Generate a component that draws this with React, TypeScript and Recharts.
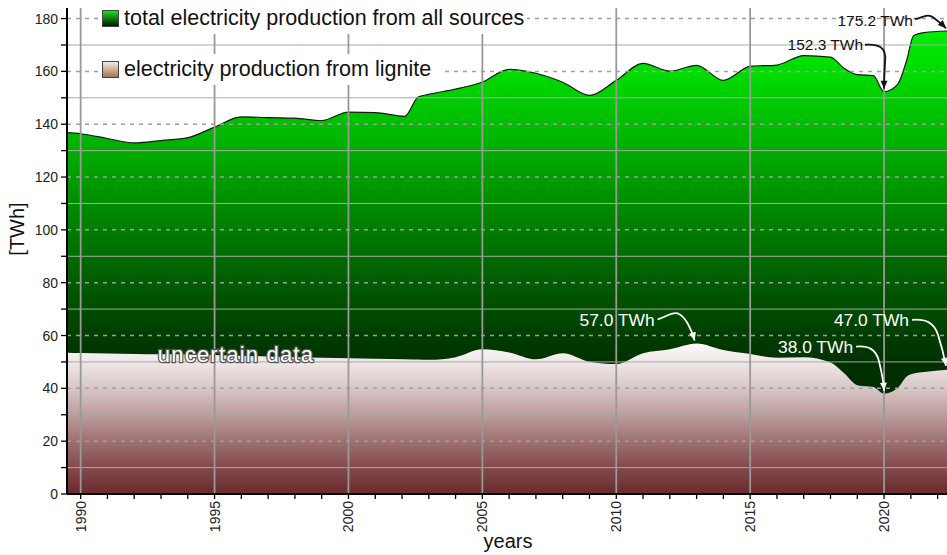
import React from 'react';
import { AreaChart, Area, XAxis, YAxis, ReferenceLine, ReferenceDot } from 'recharts';

// years (x positions of the read-off points)
const years = [
  1989.5, 1990, 1991, 1992, 1993, 1994, 1995, 1996, 1997, 1998, 1999, 2000, 2001, 2002.1, 2002.6,
  2003, 2004, 2005, 2006, 2007, 2008, 2009, 2010, 2011, 2012, 2013, 2014, 2015, 2016, 2017, 2018,
  2018.5, 2019, 2019.6, 2020, 2020.5, 2020.85, 2021.1, 2021.5, 2022.35,
];

// total electricity production from all sources [TWh]
const totalTWh = [
  136.8, 136.4, 134.6, 132.9, 133.8, 134.9, 138.9, 142.8, 142.5, 142.3, 141.4, 144.6, 144.4, 143.0, 150.3,
  151.3, 153.3, 156.0, 160.8, 159.3, 155.9, 150.9, 156.6, 163.0, 160.1, 162.3, 156.6, 161.9, 162.4, 166.0, 165.4,
  161.2, 158.8, 158.4, 152.3, 155.0, 164.4, 173.5, 174.7, 175.3,
];

// electricity production from lignite [TWh]
const ligniteTWh = [
  53.5, 53.4, 53.2, 53.0, 52.9, 52.8, 52.6, 52.3, 52.1, 51.8, 51.6, 51.4, 51.2, 51.0, 50.9,
  50.8, 51.8, 54.8, 53.6, 51.0, 53.3, 50.1, 49.2, 53.3, 54.8, 57.0, 54.5, 53.0, 51.6, 51.8, 49.8,
  45.8, 41.2, 40.5, 38.0, 40.1, 44.5, 45.6, 46.2, 47.0,
];

const yTicks = [0, 10, 20, 30, 40, 50, 60, 70, 80, 90, 100, 110, 120, 130, 140, 150, 160, 170, 180];
const dashedGrid = [20, 40, 60, 80, 100, 120, 140, 160, 180];
const solidGrid = [10, 30, 50, 70, 90, 110, 130, 150, 170];
const xTicks = [
  1990, 1991, 1992, 1993, 1994, 1995, 1996, 1997, 1998, 1999, 2000, 2001, 2002, 2003, 2004, 2005, 2006,
  2007, 2008, 2009, 2010, 2011, 2012, 2013, 2014, 2015, 2016, 2017, 2018, 2019, 2020, 2021, 2022,
];
const verticalGrid = [1990, 1995, 2000, 2005, 2010, 2015, 2020];

// annotated values
const annYears = [2022.35, 2020, 2013, 2022.35, 2020];
const annValues = [175.2, 152.3, 57.0, 47.0, 38.0];
const annLabels = ['175.2 TWh', '152.3 TWh', '57.0 TWh', '47.0 TWh', '38.0 TWh'];

const uncertainAt = { year: 1995.8, value: 52.7 };

const data = years.map((year, i) => ({ year, total: totalTWh[i], lignite: ligniteTWh[i] }));

// label / arrow placement relative to the annotated point (pixels)
const annLayout = [
  { color: '#111', size: 15.5, tx: -34, ty: -11, d: 'M -32 -12 C -24 -14, -19 -18, -14 -14 Q -6 -8, -1 -3', from: [-6, -8], tip: [-1, -3] },
  { color: '#111', size: 15.5, tx: -21, ty: -47, d: 'M -19 -47 C -6 -48, 3 -45, 1 -30 Q 0 -15, 0 -3', from: [0, -15], tip: [0, -3] },
  { color: '#fff', size: 17.4, tx: -42, ty: -23, d: 'M -39 -24 C -31 -26, -25 -32, -19 -30 C -11 -27, -5 -14, -2 -3', from: [-5, -14], tip: [-2, -3] },
  { color: '#fff', size: 17.4, tx: -38, ty: -50, d: 'M -35 -50 C -22 -51, -13 -48, -9 -35 Q -4 -19, -1 -4', from: [-4, -19], tip: [-1, -4] },
  { color: '#fff', size: 17.4, tx: -31, ty: -47, d: 'M -28 -47 C -16 -48, -8 -45, -5 -32 Q -1 -16, 0 -3', from: [-1, -16], tip: [0, -3] },
];

const FONT = '"Liberation Sans", Arial, sans-serif';

function arrowHead(from: number[], tip: number[]) {
  const dx = tip[0] - from[0];
  const dy = tip[1] - from[1];
  const len = Math.sqrt(dx * dx + dy * dy) || 1;
  const ux = dx / len;
  const uy = dy / len;
  const bx = tip[0] - ux * 8;
  const by = tip[1] - uy * 8;
  return `${tip[0]},${tip[1]} ${bx - uy * 3.5},${by + ux * 3.5} ${bx + uy * 3.5},${by - ux * 3.5}`;
}

const YTick = (props: any) => {
  const { x, y, payload } = props;
  if (payload.value % 20 !== 0) return <g />;
  return (
    <text x={x} y={y} textAnchor="end" dominantBaseline="central" fontSize={14} fill="#222" fontFamily={FONT}>
      {payload.value}
    </text>
  );
};

const XTick = (props: any) => {
  const { x, y, payload } = props;
  if (payload.value % 5 !== 0) return <g />;
  return (
    <text
      transform={`translate(${x},${y}) rotate(-90)`}
      textAnchor="end"
      dominantBaseline="central"
      fontSize={14}
      fill="#222"
      fontFamily={FONT}
    >
      {payload.value}
    </text>
  );
};

const legendRow = (top: number, right: number, icon: string, text: string) => (
  <div
    style={{
      position: 'absolute',
      left: 98,
      top,
      width: right - 98,
      height: 31,
      background: '#fff',
      display: 'flex',
      alignItems: 'center',
      boxSizing: 'border-box',
      paddingLeft: 4,
    }}
  >
    <div style={{ width: 15, height: 15, border: '1px solid #444', background: icon, marginRight: 5 }} />
    <span style={{ fontSize: 21.5, lineHeight: 1, color: '#111', whiteSpace: 'nowrap' }}>{text}</span>
  </div>
);

export default function App() {
  return (
    <div style={{ position: 'absolute', left: 0, top: 0, width: 947, height: 555, background: '#fff', fontFamily: FONT, overflow: 'hidden' }}>
      <AreaChart width={947} height={555} data={data} margin={{ top: 8, right: 0, bottom: 0, left: 0 }}>
        <defs>
          <linearGradient id="gTotal" x1="0" y1="0" x2="0" y2="1">
            <stop offset="0" stopColor="#00ee00" />
            <stop offset="0.09" stopColor="#00dc00" />
            <stop offset="0.32" stopColor="#009c00" />
            <stop offset="0.43" stopColor="#007c00" />
            <stop offset="0.55" stopColor="#005a00" />
            <stop offset="0.66" stopColor="#003d00" />
            <stop offset="0.72" stopColor="#003000" />
            <stop offset="1" stopColor="#002000" />
          </linearGradient>
          <linearGradient id="gLignite" x1="0" y1="0" x2="0" y2="1">
            <stop offset="0" stopColor="#fbf9f9" />
            <stop offset="0.12" stopColor="#f0e8e8" />
            <stop offset="0.3" stopColor="#d8c6c6" />
            <stop offset="0.47" stopColor="#bc9e9e" />
            <stop offset="0.65" stopColor="#9e7070" />
            <stop offset="0.82" stopColor="#844a4c" />
            <stop offset="1" stopColor="#6a2a2e" />
          </linearGradient>
        </defs>
        <XAxis
          dataKey="year"
          type="number"
          domain={[1989.49, 2022.35]}
          allowDataOverflow
          ticks={xTicks}
          interval={0}
          height={61}
          tick={<XTick />}
          tickSize={5}
          tickMargin={2}
          axisLine={{ stroke: '#000', strokeWidth: 2 }}
          tickLine={{ stroke: '#000', strokeWidth: 1.3 }}
          label={({ viewBox }: any) => (
            <text x={viewBox.x + 441} y={viewBox.y + 54} textAnchor="middle" fontSize={20} fill="#111" fontFamily={FONT}>
              years
            </text>
          )}
        />
        <YAxis
          type="number"
          domain={[0, 184]}
          allowDataOverflow
          ticks={yTicks}
          interval={0}
          width={67}
          tick={<YTick />}
          tickSize={6}
          tickMargin={3}
          axisLine={{ stroke: '#000', strokeWidth: 2 }}
          tickLine={{ stroke: '#000', strokeWidth: 1.3 }}
          label={({ viewBox }: any) => (
            <text
              transform={`translate(${viewBox.x + 17},${viewBox.y + 221}) rotate(-90)`}
              textAnchor="middle"
              dominantBaseline="central"
              fontSize={20}
              fill="#111"
              fontFamily={FONT}
            >
              [TWh]
            </text>
          )}
        />
        <Area
          type="monotone"
          dataKey="total"
          stroke="#1a1a1a"
          strokeWidth={1.2}
          fill="url(#gTotal)"
          fillOpacity={1}
          isAnimationActive={false}
          dot={false}
          activeDot={false}
        />
        <Area
          type="monotone"
          dataKey="lignite"
          stroke="none"
          fill="url(#gLignite)"
          fillOpacity={1}
          isAnimationActive={false}
          dot={false}
          activeDot={false}
        />
        {solidGrid.map((v) => (
          <ReferenceLine key={`s${v}`} y={v} stroke="#a8a8a8" strokeWidth={1} />
        ))}
        {dashedGrid.map((v) => (
          <ReferenceLine key={`d${v}`} y={v} stroke="#a0a0a0" strokeWidth={1.5} strokeDasharray="4 5" />
        ))}
        {verticalGrid.map((v) => (
          <ReferenceLine key={`v${v}`} x={v} stroke="#999" strokeWidth={1.8} />
        ))}
        <ReferenceDot
          x={uncertainAt.year}
          y={uncertainAt.value}
          ifOverflow="visible"
          shape={(p: any) => (
            <text
              x={p.cx}
              y={p.cy}
              textAnchor="middle"
              dominantBaseline="central"
              fontSize={22}
              letterSpacing={1.2}
              fill="#fff"
              stroke="#555"
              strokeWidth={2.5}
              paintOrder="stroke"
              fontFamily={FONT}
            >
              uncertain data
            </text>
          )}
        />
        {annYears.map((yr, i) => {
          const a = annLayout[i];
          return (
            <ReferenceDot
              key={`a${i}`}
              x={yr}
              y={annValues[i]}
              ifOverflow="visible"
              shape={(p: any) => (
                <g transform={`translate(${p.cx},${p.cy})`}>
                  <text x={a.tx} y={a.ty} textAnchor="end" dominantBaseline="central" fontSize={a.size} fill={a.color} fontFamily={FONT}>
                    {annLabels[i]}
                  </text>
                  <path d={a.d} fill="none" stroke={a.color} strokeWidth={1.8} />
                  <polygon points={arrowHead(a.from, a.tip)} fill={a.color} />
                </g>
              )}
            />
          );
        })}
      </AreaChart>
      {legendRow(3, 527, 'linear-gradient(#19e019, #001a00)', 'total electricity production from all sources')}
      {legendRow(54, 440, 'linear-gradient(#f2ebe4, #a87450)', 'electricity production from lignite')}
    </div>
  );
}
